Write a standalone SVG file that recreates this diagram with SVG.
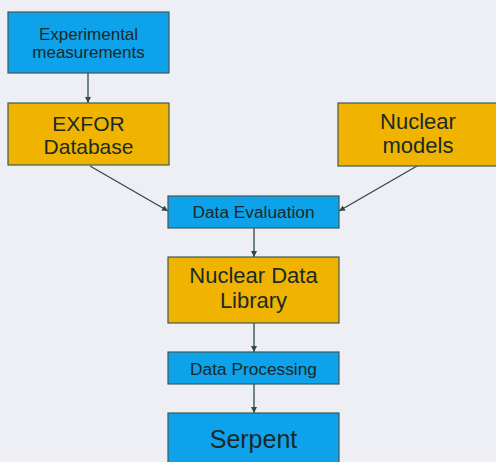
<svg xmlns="http://www.w3.org/2000/svg" width="496" height="462" viewBox="0 0 496 462">
<style>
.blue{fill:#0da2ea;stroke:#3d5a55;stroke-width:1.2}
.gold{fill:#f0b400;stroke:#3d5a55;stroke-width:1.2}
text{font-family:"Liberation Sans","DejaVu Sans",sans-serif;fill:#1a2a28;text-anchor:middle}
.s{font-size:17px}
.m{font-size:17.3px}
.l{font-size:22px}
.xl{font-size:25px}
.c{stroke:#2e4a45;stroke-width:1.3;fill:none;marker-end:url(#ah)}
</style>
<defs>
<marker id="ah" viewBox="0 0 8 8" refX="8" refY="4" markerWidth="6" markerHeight="6" orient="auto" markerUnits="userSpaceOnUse">
<path d="M0,0 L8,4 L0,8 Z" fill="#2e4a45"/>
</marker>
</defs>
<rect width="496" height="462" fill="#eeeff4"/>
<g id="connectors">
<line class="c" x1="88" y1="73" x2="88" y2="103"/>
<line class="c" x1="90" y1="166" x2="168" y2="211"/>
<line class="c" x1="417" y1="166" x2="339" y2="211"/>
<line class="c" x1="254" y1="228" x2="254" y2="257"/>
<line class="c" x1="254" y1="323" x2="254" y2="352"/>
<line class="c" x1="254" y1="384" x2="254" y2="413"/>
</g>
<g id="exp">
<rect class="blue" x="8" y="12" width="161" height="61"/>
<text class="s" x="88.5" y="39.5">Experimental</text>
<text class="s" x="88.5" y="57.5">measurements</text>
</g>
<g id="exfor">
<rect class="gold" x="8" y="103" width="161" height="62"/>
<text class="l" x="88.5" y="131" style="font-size:21px">EXFOR</text>
<text class="l" x="88.5" y="154" style="font-size:21px">Database</text>
</g>
<g id="models">
<rect class="gold" x="338" y="103" width="160" height="63"/>
<text class="l" x="418" y="129">Nuclear</text>
<text class="l" x="418" y="153">models</text>
</g>
<g id="eval">
<rect class="blue" x="168" y="196" width="171" height="32"/>
<text class="m" x="253.5" y="218">Data Evaluation</text>
</g>
<g id="library">
<rect class="gold" x="168" y="257" width="171" height="66"/>
<text class="l" x="253.5" y="283">Nuclear Data</text>
<text class="l" x="253.5" y="308">Library</text>
</g>
<g id="processing">
<rect class="blue" x="168" y="352" width="171" height="32"/>
<text class="m" x="253.5" y="375">Data Processing</text>
</g>
<g id="serpent">
<rect class="blue" x="168" y="413" width="171" height="60"/>
<text class="xl" x="253.5" y="448">Serpent</text>
</g>
</svg>
